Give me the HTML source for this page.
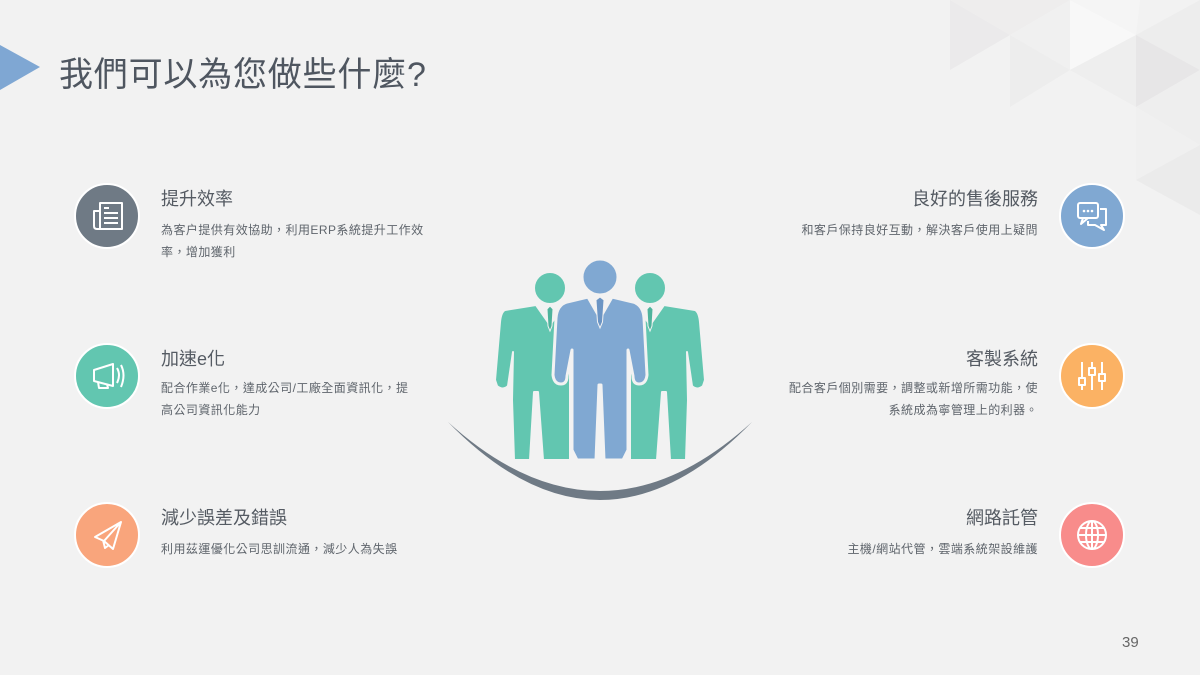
<!DOCTYPE html>
<html><head><meta charset="utf-8"><style>
body{margin:0;width:1200px;height:675px;background:#f2f2f2;position:relative;overflow:hidden;font-family:"Liberation Sans","Noto Sans CJK TC",sans-serif}
.t{position:absolute;color:#4f5660}
.h{font-size:18px;color:#555b63}
.b{font-size:12px;color:#5f656c;line-height:22px;letter-spacing:0.45px}
.r{text-align:right}
</style></head><body>
<svg width="1200" height="675" style="position:absolute;left:0;top:0">
 <polygon points="950,0 1010,35 950,70" fill="#ebeaeb"/>
 <polygon points="950,0 1070,0 1010,35" fill="#eeeded"/>
 <polygon points="1010,35 1070,0 1070,70" fill="#f0f0f0"/>
 <polygon points="1010,35 1070,70 1010,107" fill="#ededed"/>
 <polygon points="1070,0 1140,0 1136,35" fill="#f5f5f5"/>
 <polygon points="1070,0 1136,35 1070,70" fill="#f8f8f8"/>
 <polygon points="1070,70 1136,35 1136,107" fill="#eeeeee"/>
 <polygon points="1136,35 1200,0 1200,70" fill="#ededed"/>
 <polygon points="1136,35 1200,70 1136,107" fill="#e7e6e7"/>
 <polygon points="1200,70 1136,107 1200,145" fill="#eeeeee"/>
 <polygon points="1136,107 1200,145 1136,180" fill="#f0f0f0"/>
 <polygon points="1200,145 1136,180 1200,215" fill="#ebebeb"/>
 <polygon points="0,45 40,67 0,90" fill="#7fa7d3"/>
 <path d="M448,422 Q600,578 752,422 Q600,560 448,422Z" fill="#6f7a85"/>
 <g fill="#62c6b0" stroke="#f2f2f2" stroke-width="2" stroke-linejoin="round">
  <circle cx="550" cy="288" r="16"/>
  <path id="lf" d="M505,310 L536,305 L550,325 L564,305 L570,310 L570,460 L543,460 L538,392 L534,392 L530,460 L514,460 L512,400 L513,352 L508,386 Q503,391 497,386 L495,380 L500,322 Q501,312 505,310 Z"/>
  <circle cx="650" cy="288" r="16"/>
  <g transform="translate(1200,0) scale(-1,1)"><use href="#lf"/></g>
 </g>
 <g fill="#80a8d2" stroke="#f2f2f2" stroke-width="3" stroke-linejoin="round">
  <circle cx="600" cy="277" r="18"/>
  <path d="M567,302 L588,297 L600,318 L612,297 L633,302 Q643,305 644,318 L647,375 Q646,384 639,384 Q633,384 633,376 L628,350 L628,450 L623,460 L604,460 L601,385 L599,385 L596,460 L577,460 L572,450 L572,350 L567,376 Q567,384 561,384 Q554,384 553,375 L556,318 Q557,305 567,302Z"/>
 </g>
 <g stroke="#f2f2f2" stroke-width="1">
  <path d="M596,300 L600,297 L604,300 L602.5,322 L600,328 L597.5,322Z" fill="#6c95c4"/>
  <path d="M547,309 L550,306 L553,309 L552,326 L550,331 L548,326Z" fill="#4fb39c"/>
  <path d="M647,309 L650,306 L653,309 L652,326 L650,331 L648,326Z" fill="#4fb39c"/>
 </g>
 <g stroke="#fff" stroke-width="2">
  <circle cx="107" cy="216" r="32" fill="#6f7a85"/>
  <circle cx="107" cy="376" r="32" fill="#62c6b0"/>
  <circle cx="107" cy="535" r="32" fill="#f9a57c"/>
  <circle cx="1092" cy="216" r="32" fill="#80a8d2"/>
  <circle cx="1092" cy="376" r="32" fill="#fbb264"/>
  <circle cx="1092" cy="535" r="32" fill="#f88c8b"/>
 </g>
 <g fill="none" stroke="#fff" stroke-width="2" stroke-linejoin="round">
  <rect x="100" y="203" width="22" height="26"/><path d="M100,211 H94 V226 Q94,229 97,229 H100"/>
  <path d="M104,208 H109 M104,213 H118 M104,218 H118 M104,223 H118"/>
  <path d="M94,370 L113,364 L113,386 L94,381Z"/><path d="M98,382 L99,388 L108,388 L107,384"/>
  <path d="M117,368 Q121,375 117,383 M121,365 Q126,375 121,387"/>
  <path d="M95,537 L121,522 L113,549 L104,541Z M104,541 L121,522 M103,540 L105,548 L109,545"/>
  <rect x="1078" y="203" width="20" height="15" rx="2"/><path d="M1083,218 L1081,224 L1088,218"/>
  <path d="M1100,209 H1106 V225 H1101 L1104,230 L1095,225 H1088 V221"/>
  <path d="M1082,362 V390 M1092,362 V390 M1102,362 V390"/>
  <rect x="1079" y="378" width="6" height="7" fill="#fbb264"/><rect x="1089" y="368" width="6" height="7" fill="#fbb264"/><rect x="1099" y="374" width="6" height="7" fill="#fbb264"/>
  <circle cx="1092" cy="535" r="14"/><ellipse cx="1092" cy="535" rx="6" ry="14"/><path d="M1078,535 H1106 M1080,528 H1104 M1080,542 H1104 M1092,521 V549"/>
 </g>
 <g fill="#fff"><circle cx="1084" cy="211" r="1.3"/><circle cx="1088" cy="211" r="1.3"/><circle cx="1092" cy="211" r="1.3"/></g>
</svg>
<div class="t" style="left:59px;top:47px;font-size:34px;color:#4f5660;letter-spacing:0.8px">我們可以為您做些什麼?</div>

<div class="t h" style="left:161px;top:185px">提升效率</div>
<div class="t b" style="left:161px;top:219px;width:266px">為客户提供有效協助，利用ERP系統提升工作效率，增加獲利</div>
<div class="t h" style="left:161px;top:345px">加速e化</div>
<div class="t b" style="left:161px;top:377px;width:256px">配合作業e化，達成公司/工廠全面資訊化，提高公司資訊化能力</div>
<div class="t h" style="left:161px;top:504px">減少誤差及錯誤</div>
<div class="t b" style="left:161px;top:538px">利用茲運優化公司思訓流通，減少人為失誤</div>

<div class="t h r" style="right:162px;top:185px">良好的售後服務</div>
<div class="t b r" style="right:162px;top:219px">和客戶保持良好互動，解決客戶使用上疑問</div>
<div class="t h r" style="right:162px;top:345px">客製系統</div>
<div class="t b r" style="right:162px;top:377px;width:256px">配合客戶個別需要，調整或新增所需功能，使系統成為寧管理上的利器。</div>
<div class="t h r" style="right:162px;top:504px">網路託管</div>
<div class="t b r" style="right:162px;top:538px">主機/網站代管，雲端系統架設維護</div>

<div class="t" style="left:1122px;top:634px;font-size:15px;color:#666">39</div>
</body></html>
